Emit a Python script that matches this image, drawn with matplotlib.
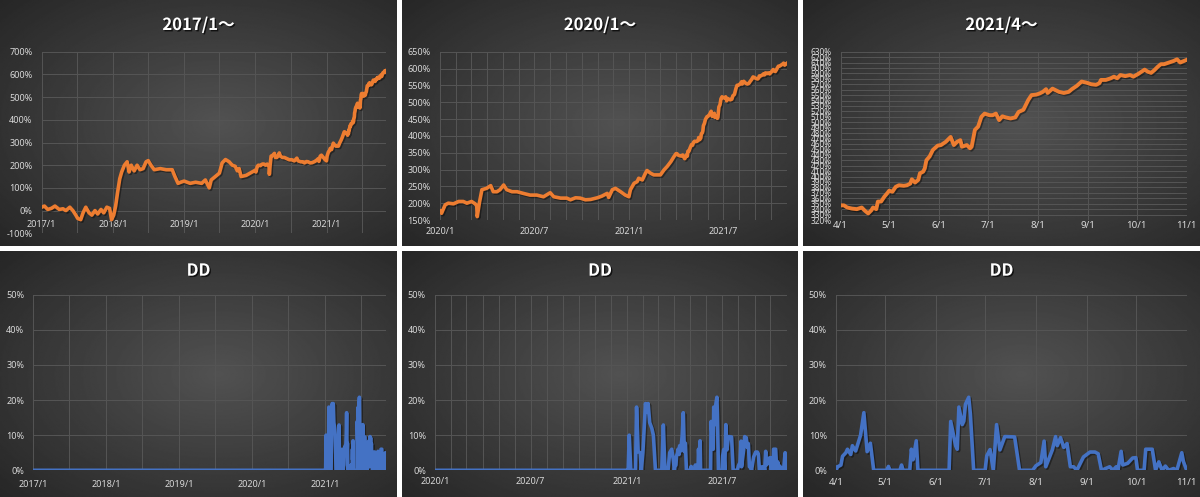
import numpy as np
import pandas as pd
import matplotlib
matplotlib.use("Agg")
import matplotlib.pyplot as plt
import matplotlib.patheffects as pe

# equity curve (%) (2017-2019 from panel 1, 2020 from panel 2, 2021/4- from panel 3)
eq_dates = [
    "2017-01-01", "2017-01-15", "2017-02-01", "2017-02-20", "2017-03-10", "2017-04-01", "2017-04-20",
    "2017-05-05", "2017-05-25", "2017-06-10", "2017-06-25", "2017-07-05", "2017-07-20", "2017-08-01",
    "2017-08-15", "2017-09-01", "2017-09-15", "2017-10-01", "2017-10-15", "2017-11-01", "2017-11-15",
    "2017-12-01", "2017-12-15", "2017-12-25", "2018-01-05", "2018-01-15", "2018-01-25", "2018-02-05",
    "2018-02-15", "2018-03-01", "2018-03-15", "2018-03-25", "2018-04-05", "2018-04-20", "2018-05-05",
    "2018-05-20", "2018-06-05", "2018-06-20", "2018-07-01", "2018-07-15", "2018-08-01", "2018-09-01",
    "2018-10-01", "2018-11-01", "2018-11-15", "2018-12-01", "2018-12-15", "2019-01-01", "2019-02-01",
    "2019-03-01", "2019-04-01", "2019-04-20", "2019-05-10", "2019-05-20", "2019-06-10", "2019-07-01",
    "2019-07-15", "2019-08-01", "2019-08-20", "2019-09-05", "2019-09-20", "2019-10-01", "2019-10-10",
    "2019-10-20", "2019-11-15", "2019-12-15",
    "2020-01-01", "2020-01-04", "2020-01-11", "2020-01-17", "2020-01-27", "2020-02-06", "2020-02-15",
    "2020-02-22", "2020-03-02", "2020-03-09", "2020-03-12", "2020-03-13", "2020-03-17", "2020-03-22",
    "2020-03-31", "2020-04-08", "2020-04-13", "2020-04-20", "2020-04-26", "2020-05-03", "2020-05-09",
    "2020-05-19", "2020-05-29", "2020-06-10", "2020-06-23", "2020-07-06", "2020-07-19", "2020-08-01",
    "2020-08-08", "2020-08-21", "2020-09-02", "2020-09-09", "2020-09-19", "2020-09-28", "2020-10-08",
    "2020-10-18", "2020-10-31", "2020-11-09", "2020-11-19", "2020-11-22", "2020-11-29", "2020-12-05",
    "2020-12-15", "2020-12-24", "2020-12-31", "2021-01-03", "2021-01-10", "2021-01-16", "2021-01-19",
    "2021-01-26", "2021-02-01", "2021-02-04", "2021-02-11", "2021-02-17", "2021-03-02", "2021-03-09",
    "2021-03-15", "2021-03-22", "2021-03-28",
    "2021-04-01", "2021-04-03", "2021-04-05", "2021-04-08", "2021-04-11", "2021-04-14", "2021-04-16",
    "2021-04-18", "2021-04-20", "2021-04-21", "2021-04-23", "2021-04-24", "2021-04-26", "2021-04-28",
    "2021-04-30", "2021-05-01", "2021-05-03", "2021-05-05", "2021-05-07", "2021-05-10", "2021-05-12",
    "2021-05-14", "2021-05-15", "2021-05-17", "2021-05-19", "2021-05-20", "2021-05-22", "2021-05-23",
    "2021-05-24", "2021-05-26", "2021-05-28", "2021-05-31", "2021-06-02", "2021-06-05", "2021-06-07",
    "2021-06-08", "2021-06-10", "2021-06-12", "2021-06-14", "2021-06-15", "2021-06-18", "2021-06-20",
    "2021-06-21", "2021-06-23", "2021-06-25", "2021-06-27", "2021-06-29", "2021-07-02", "2021-07-04",
    "2021-07-06", "2021-07-08", "2021-07-10", "2021-07-12", "2021-07-15", "2021-07-18", "2021-07-20",
    "2021-07-23", "2021-07-24", "2021-07-26", "2021-07-28", "2021-07-31", "2021-08-02", "2021-08-04",
    "2021-08-06", "2021-08-07", "2021-08-10", "2021-08-12", "2021-08-14", "2021-08-17", "2021-08-20",
    "2021-08-22", "2021-08-25", "2021-08-28", "2021-08-31", "2021-09-03", "2021-09-06", "2021-09-08",
    "2021-09-09", "2021-09-12", "2021-09-15", "2021-09-17", "2021-09-19", "2021-09-21", "2021-09-24",
    "2021-09-27", "2021-09-29", "2021-10-02", "2021-10-04", "2021-10-06", "2021-10-08", "2021-10-10",
    "2021-10-12", "2021-10-14", "2021-10-16", "2021-10-18", "2021-10-21", "2021-10-24", "2021-10-26",
    "2021-10-28", "2021-11-01",
]
eq_values = [
    15, 20, 5, 10, 20, 5, 8,
    0, 15, 0, -20, -35, -40, -10,
    15, -10, -20, 0, -15, 5, -10,
    15, 10, -40, -20, 20, 80, 140,
    170, 200, 215, 170, 200, 175, 200,
    180, 185, 215, 220, 200, 180, 185,
    180, 180, 150, 120, 125, 130, 120,
    125, 120, 135, 100, 135, 150, 165,
    210, 225, 215, 200, 195, 175, 185,
    150, 155, 170,
    178, 170, 195, 200, 198, 205, 205,
    200, 205, 198, 192, 160, 200, 240,
    244, 252, 234, 234, 240, 254, 240,
    234, 234, 229, 224, 224, 219, 231,
    219, 215, 215, 210, 216, 215, 210,
    211, 216, 221, 229, 217, 240, 244,
    234, 224, 219, 240, 259, 264, 274,
    269, 289, 297, 289, 284, 284, 299,
    309, 323, 338,
    347, 347, 343, 341, 340, 343, 337,
    332, 338, 343, 340, 354, 354, 363,
    370, 374, 372, 381, 384, 383, 384,
    387, 395, 389, 394, 406, 409, 415,
    430, 437, 449, 457, 458, 464, 470,
    473, 458, 464, 467, 455, 458, 452,
    455, 486, 492, 510, 516, 513, 513,
    516, 504, 511, 509, 507, 509, 519,
    523, 529, 541, 550, 551, 553, 556,
    561, 554, 562, 559, 556, 554, 556,
    561, 567, 575, 573, 570, 569, 572,
    578, 578, 581, 584, 581, 587, 585,
    587, 584, 589, 593, 597, 593, 591,
    596, 602, 607, 607, 610, 613, 616,
    610, 615,
]

# drawdown (%), zero until 2021
dd_dates = [
    "2017-01-01", "2020-12-31", "2021-01-03", "2021-01-05", "2021-01-08", "2021-01-17", "2021-01-19",
    "2021-01-22", "2021-01-26", "2021-01-28", "2021-01-31", "2021-02-05", "2021-02-08", "2021-02-10",
    "2021-02-13", "2021-02-17", "2021-02-20", "2021-02-24", "2021-03-08", "2021-03-11", "2021-03-14",
    "2021-03-20", "2021-03-23", "2021-03-27", "2021-03-30",
    "2021-04-01", "2021-04-02", "2021-04-04", "2021-04-05", "2021-04-07", "2021-04-08", "2021-04-10",
    "2021-04-11", "2021-04-13", "2021-04-14", "2021-04-16", "2021-04-18", "2021-04-20", "2021-04-22",
    "2021-04-24", "2021-05-02", "2021-05-03", "2021-05-04", "2021-05-10", "2021-05-11", "2021-05-12",
    "2021-05-16", "2021-05-17", "2021-05-18", "2021-05-20", "2021-05-21", "2021-06-09", "2021-06-10",
    "2021-06-13", "2021-06-14", "2021-06-15", "2021-06-17", "2021-06-18", "2021-06-19", "2021-06-21",
    "2021-06-22", "2021-06-24", "2021-07-01", "2021-07-02", "2021-07-04", "2021-07-06", "2021-07-08",
    "2021-07-10", "2021-07-13", "2021-07-19", "2021-07-22", "2021-07-30", "2021-08-01", "2021-08-04",
    "2021-08-06", "2021-08-07", "2021-08-11", "2021-08-13", "2021-08-14", "2021-08-16", "2021-08-18",
    "2021-08-20", "2021-08-22", "2021-08-24", "2021-08-26", "2021-08-30", "2021-09-03", "2021-09-06",
    "2021-09-08", "2021-09-10", "2021-09-15", "2021-09-17", "2021-09-19", "2021-09-20", "2021-09-22",
    "2021-09-23", "2021-09-26", "2021-09-29", "2021-10-01", "2021-10-02", "2021-10-06", "2021-10-07",
    "2021-10-11", "2021-10-13", "2021-10-15", "2021-10-17", "2021-10-19", "2021-10-21", "2021-10-24",
    "2021-10-26", "2021-10-29", "2021-10-30", "2021-11-01",
]
dd_values = [
    0, 0, 0, 10, 0, 0, 18,
    5.3, 5, 0, 5, 19, 16.5, 19,
    13.6, 12, 10, 0, 0, 12.9, 0,
    0, 5, 6, 3,
    0, 1, 1.5, 4, 5, 6, 4.5,
    7, 5.5, 7, 10, 16.4, 5.3, 7.7,
    0, 0, 1.1, 0, 0, 1.5, 0,
    0, 6, 3, 8.4, 0, 0, 13.9,
    7, 6, 18, 13, 14, 18.8, 20.8,
    16, 0, 0, 4.1, 5.9, 0, 13,
    5.8, 9.6, 9.5, 0, 0, 1.3, 2.2,
    8.3, 1, 5.8, 9.6, 7, 9.3, 6.5,
    7.6, 1, 1, 0, 3.8, 5.2, 5.2,
    4.7, 0, 1, 0, 1, 0, 5.4,
    1.5, 2, 3.5, 3.6, 0, 0, 6,
    6, 0, 2.4, 0, 1.2, 0, 0.5,
    0, 5, 2.5, 0,
]

top_titles = ["2017/1〜", "2020/1〜", "2021/4〜"]
bottom_title = "DD"

W, H = 1200, 497
ORANGE = "#ED7D31"
BLUE = "#4472C4"
GRID = "#555555"
TXT = "#d9d9d9"


def frac(x0, y0, x1, y1):
    return [x0 / W, 1 - y1 / H, (x1 - x0) / W, (y1 - y0) / H]


def background(fig, box):
    ax = fig.add_axes(frac(*box), zorder=0)
    yy, xx = np.mgrid[0:1:200j, 0:1:320j]
    r = np.sqrt((xx - 0.55) ** 2 + (yy - 0.5) ** 2) / 0.75
    g = 0.32 - 0.17 * np.clip(r, 0, 1)
    ax.imshow(g, cmap="gray", vmin=0, vmax=1, aspect="auto", extent=[0, 1, 0, 1])
    ax.set_axis_off()


def panel(fig, box, area, title, title_y, dates, values, color, lw, xlim, ylim, ystep,
          grid_freq, label_every, label_fmt, xpad, xbold=False, zero_axis=False, ysize=6.5):
    background(fig, box)
    fig.text((box[0] + box[2]) / 2 / W, 1 - title_y / H, title, ha="center", va="center",
             color="white", fontsize=12, fontweight="bold", family=["Noto Sans CJK JP", "DejaVu Sans"],
             path_effects=[pe.SimplePatchShadow(offset=(1, -1), shadow_rgbFace="black", alpha=0.7),
                           pe.Normal()])

    ax = fig.add_axes(frac(*area), zorder=2)
    ax.patch.set_alpha(0)
    for s in ax.spines.values():
        s.set_visible(False)
    if zero_axis:
        # x labels sit on the 0% line, like Excel
        ax.spines["bottom"].set_position(("data", 0))

    x = pd.to_datetime(dates)
    ax.plot(x, values, color=color, lw=lw, solid_joinstyle="round", zorder=3,
            path_effects=[pe.SimpleLineShadow(offset=(1, -1), shadow_color="black", alpha=0.4),
                          pe.Normal()])

    x0, x1 = pd.Timestamp(xlim[0]), pd.Timestamp(xlim[1])
    ax.set_xlim(x0, x1)
    ax.set_ylim(*ylim)

    gdates = pd.date_range(x0, x1, freq=grid_freq)
    ax.set_xticks(gdates)
    ax.set_xticklabels([label_fmt(d) if i % label_every == 0 else "" for i, d in enumerate(gdates)],
                       fontsize=7 if xbold else 6.5, fontweight="bold" if xbold else "normal",
                       color=TXT, family="Noto Sans")
    yt = np.arange(ylim[0], ylim[1] + 1, ystep)
    ax.set_yticks(yt)
    ax.set_yticklabels([f"{v}%" for v in yt], fontsize=ysize, color=TXT, family="Noto Sans")

    ax.grid(True, color=GRID, lw=0.7)
    ax.set_axisbelow(True)
    ax.tick_params(length=0)
    ax.tick_params(axis="x", pad=xpad)
    ax.tick_params(axis="y", pad=6.5)
    return ax


yearly = lambda d: f"{d.year}/{d.month}"
monthly = lambda d: f"{d.month}/1"

fig = plt.figure(figsize=(12, 4.97), dpi=100, facecolor="white")

panel(fig, (0, 0, 397, 246), (41.7, 51.7, 386, 233.3), top_titles[0], 25,
      eq_dates, eq_values, ORANGE, 2.6, ("2017-01-01", "2021-11-01"), (-100, 700), 100,
      "6MS", 2, yearly, 6.5, zero_axis=True)
panel(fig, (402, 0, 798, 246), (440, 51.7, 786.7, 220), top_titles[1], 25,
      eq_dates, eq_values, ORANGE, 2.6, ("2020-01-01", "2021-11-01"), (150, 650), 50,
      "MS", 6, yearly, 5)
panel(fig, (803, 0, 1200, 246), (840.7, 51.7, 1186.7, 220), top_titles[2], 25,
      eq_dates, eq_values, ORANGE, 2.8, ("2021-04-01", "2021-11-01"), (320, 630), 10,
      "MS", 1, monthly, 1, xbold=True, ysize=6)

panel(fig, (0, 251, 397, 497), (33.3, 294.7, 386, 470.3), bottom_title, 270.7,
      dd_dates, dd_values, BLUE, 2.6, ("2017-01-01", "2021-11-01"), (0, 50), 10,
      "6MS", 2, yearly, 7)
panel(fig, (402, 251, 798, 497), (435, 294.7, 786.7, 470.3), bottom_title, 270.7,
      dd_dates, dd_values, BLUE, 2.6, ("2020-01-01", "2021-11-01"), (0, 50), 10,
      "MS", 6, yearly, 5)
panel(fig, (803, 251, 1200, 497), (836, 294.7, 1186.7, 470.3), bottom_title, 270.7,
      dd_dates, dd_values, BLUE, 2.6, ("2021-04-01", "2021-11-01"), (0, 50), 10,
      "MS", 1, monthly, 5.5, xbold=True)

fig.savefig("out.png", dpi=100, facecolor="white")
